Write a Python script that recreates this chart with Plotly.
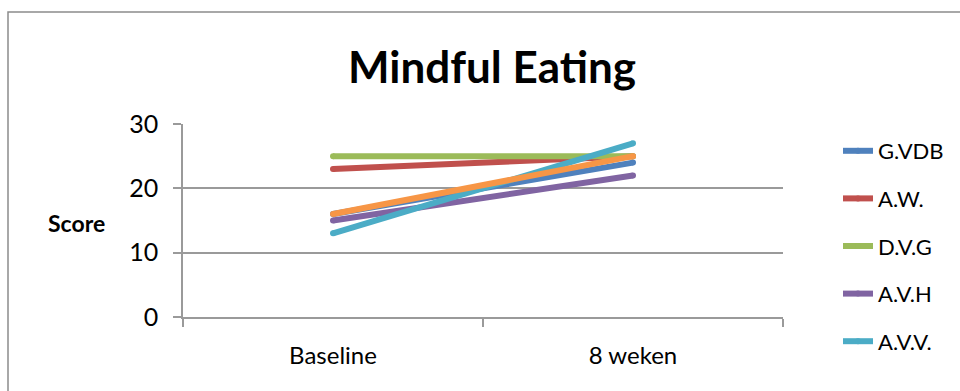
import plotly.graph_objects as go

categories = ["Baseline", "8 weken"]
series_names = ["G.VDB", "A.W.", "D.V.G", "A.V.H", "A.V.V.", "Reeks 6"]
series_values = [
    [16, 24],
    [23, 25],
    [25, 25],
    [15, 22],
    [13, 27],
    [16, 25],
]
series_colors = ["#4F81BD", "#C0504D", "#9BBB59", "#8064A2", "#4BACC6", "#F79646"]
show_in_legend = [True, True, True, True, True, False]
y_ticks = [0, 10, 20, 30]

FONT = "Lato, 'Open Sans', sans-serif"

fig = go.Figure()
for name, vals, col, sl in zip(series_names, series_values, series_colors, show_in_legend):
    fig.add_trace(go.Scatter(
        x=categories, y=vals, name=name, mode="lines+markers",
        line=dict(color=col, width=6),
        marker=dict(color=col, size=6, line=dict(width=0)),
        showlegend=sl, legendgroup=name,
    ))

fig.update_layout(
    width=960, height=391,
    margin=dict(l=183, r=177, t=124, b=74, autoexpand=False),
    paper_bgcolor="white", plot_bgcolor="white",
    font=dict(family=FONT, color="black"),
    title=dict(text="<b>Mindful Eating</b>", x=492 / 960, xanchor="center",
               y=1 - 68 / 391, yanchor="middle",
               font=dict(size=44, family=FONT, color="black")),
    showlegend=True,
    legend=dict(x=(838 - 183) / 600, xanchor="left", y=(317 - 130) / 193, yanchor="top",
                font=dict(size=22, family=FONT), tracegroupgap=16, maxheight=600,
                bgcolor="rgba(0,0,0,0)", itemwidth=30),
    shapes=[dict(type="rect", xref="paper", yref="paper",
                 x0=(8 - 183) / 600, x1=(975 - 183) / 600,
                 y0=(317 - 400) / 193, y1=(317 - 12) / 193,
                 line=dict(color="#8c8c8c", width=1.5), fillcolor="rgba(0,0,0,0)", layer="below")],
    annotations=[dict(text="<b>Score</b>", xref="paper", yref="paper",
                      x=(76 - 183) / 600, y=(317 - 223) / 193, xanchor="center", yanchor="middle",
                      showarrow=False, font=dict(size=23, family=FONT, color="black"))],
)

fig.update_xaxes(
    type="category", range=[-0.5, 1.5], automargin=False,
    showgrid=False, showline=True, linecolor="#9a9a9a", linewidth=1.5,
    ticks="outside", tickson="boundaries", ticklen=8, tickcolor="#9a9a9a", tickwidth=1.5,
    tickfont=dict(size=24, family=FONT, color="black"), ticklabelstandoff=16,
)
fig.update_yaxes(
    range=[0, 30], tickvals=y_ticks, ticktext=[str(v) for v in y_ticks], automargin=False,
    showgrid=True, gridcolor="#9a9a9a", gridwidth=1.5,
    showline=True, linecolor="#9a9a9a", linewidth=1.5,
    ticks="outside", ticklen=8, tickcolor="#9a9a9a", tickwidth=1.5,
    tickfont=dict(size=25, family=FONT, color="black"), zeroline=False,
    ticklabelstandoff=10,
)

fig.write_html("out.html")
